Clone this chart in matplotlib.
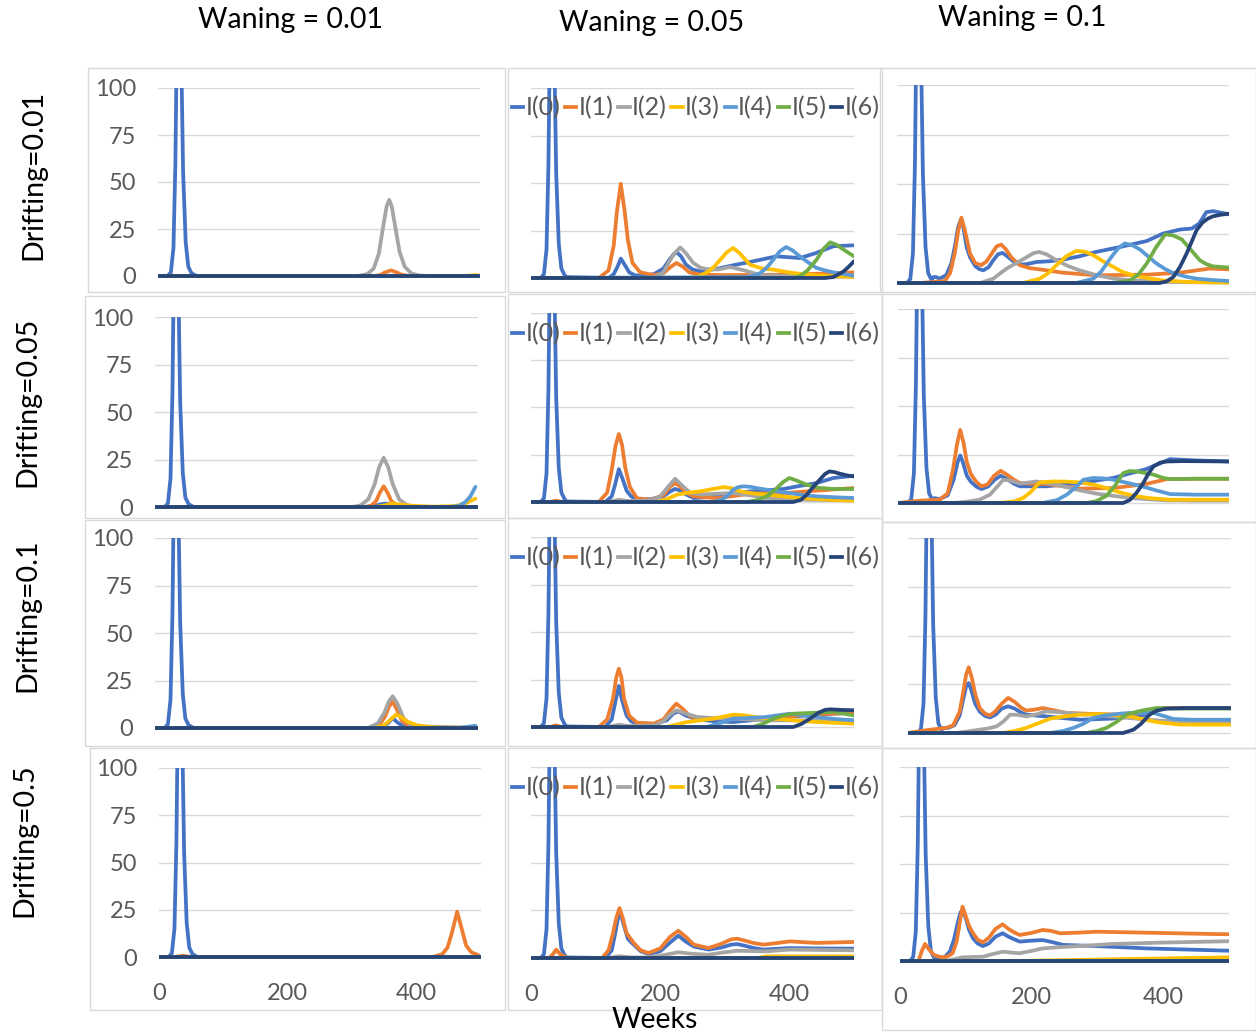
import matplotlib
matplotlib.use("Agg")
import matplotlib.pyplot as plt
from matplotlib.lines import Line2D
from matplotlib.patches import Rectangle

# ---------------- data (weeks, infected) ----------------
SERIES = ["I(0)", "I(1)", "I(2)", "I(3)", "I(4)", "I(5)", "I(6)"]
COLORS = ["#4472C4", "#ED7D31", "#A5A5A5", "#FFC000", "#5B9BD5", "#70AD47", "#264478"]
WANING = ["Waning = 0.01", "Waning = 0.05", "Waning = 0.1"]
DRIFTING = ["Drifting=0.01", "Drifting=0.05", "Drifting=0.1", "Drifting=0.5"]
X_TICKS = [0, 200, 400]
Y_TICKS = [0, 25, 50, 75, 100]

# initial outbreak of I(0), same in every panel
SPIKE_WK = [0, 15, 20, 24, 27, 30, 33, 36, 39, 43, 47, 52]
SPIKE_VAL = [0, 0, 2, 15, 60, 150, 190, 120, 55, 18, 5, 1.5]
ZERO_WK = [0, 500]
ZERO_VAL = [0, 0]

# I(0) entries below are the part after the initial outbreak
dr01_wa01 = {
    "I(0)": ([60, 500], [0, 0]),
    "I(1)": ([0, 335, 345, 353, 362, 370, 378, 390, 500], [0, 0, 0.5, 2, 3, 2, 0.7, 0, 0]),
    "I(2)": ([0, 310, 325, 335, 343, 350, 355, 359, 363, 368, 375, 383, 393, 405, 420, 500],
             [0, 0, 1, 4, 12, 27, 37, 40.5, 37, 27, 13, 5, 1.5, 0.3, 0, 0]),
    "I(3)": ([0, 470, 496], [0, 0, 0.5]),
}
dr05_wa01 = {
    "I(0)": ([60, 335, 350, 358, 370, 385, 500], [0, 0, 1.5, 1.8, 0.8, 0, 0]),
    "I(1)": ([0, 325, 335, 342, 348, 354, 360, 366, 375, 385, 500], [0, 0, 0.8, 3, 7.5, 10.9, 7.5, 3, 0.8, 0, 0]),
    "I(2)": ([0, 305, 318, 330, 340, 347, 354, 361, 368, 378, 390, 405, 500],
             [0, 0, 0.8, 4, 12, 21, 25.9, 21, 12, 4, 1, 0, 0]),
    "I(3)": ([0, 340, 355, 366, 380, 400, 430, 465, 480, 496], [0, 0, 0.8, 1.8, 1.3, 0.6, 0.2, 0.5, 1.8, 4.4]),
    "I(4)": ([0, 455, 470, 480, 488, 496], [0, 0, 0.5, 2.5, 5.5, 10.6]),
}
dr10_wa01 = {
    "I(0)": ([60, 340, 355, 362, 368, 375, 385, 395, 500], [0, 0, 1, 3, 5.3, 3, 0.8, 0, 0]),
    "I(1)": ([0, 335, 348, 356, 362, 368, 374, 382, 395, 500], [0, 0, 2, 6, 11, 14, 10, 4, 0.5, 0]),
    "I(2)": ([0, 330, 345, 355, 362, 368, 375, 385, 398, 500], [0, 0, 2.5, 8, 14, 16.7, 13, 5, 1, 0]),
    "I(3)": ([0, 340, 355, 365, 373, 380, 390, 405, 425, 440, 500], [0, 0, 1.5, 4.5, 7, 6, 3.5, 1.5, 0.6, 0.2, 0]),
    "I(4)": ([0, 470, 496], [0, 0, 1.2]),
}
dr50_wa01 = {
    "I(0)": ([60, 500], [0, 0]),
    "I(1)": ([0, 25, 37, 50, 425, 440, 448, 455, 463, 470, 477, 485, 496],
             [0, 0, 0.7, 0, 0, 1.5, 5, 13, 24, 15, 6, 2.5, 1]),
}

dr01_wa05 = {
    "I(0)": ([55, 120, 128, 134, 139, 145, 152, 160, 169, 190, 205, 215, 221, 226, 232, 240, 250, 262,
              290, 313, 340, 380, 416, 440, 468, 499],
             [0.5, 0, 2, 6, 10.2, 7, 3, 1.5, 1.2, 2, 5, 10, 12.5, 13.5, 11.5, 7, 4.5, 3.5,
              5, 6.7, 8.5, 11.4, 10.5, 13, 16.7, 17.2]),
    "I(1)": ([0, 105, 120, 128, 133, 139, 145, 150, 157, 169, 190, 205, 215, 225, 235, 245, 262, 300, 400, 470, 500],
             [0, 0, 4, 17, 35, 49.6, 35, 20, 8, 3, 1.5, 2.5, 5.5, 7.9, 6, 3, 1.8, 1.5, 1.8, 2.5, 3]),
    "I(2)": ([0, 190, 205, 213, 222, 231, 240, 251, 262, 272, 290, 308, 330, 355, 400, 500],
             [0, 0, 3, 8, 13, 16.1, 13, 8, 5.5, 4.7, 4.5, 5.8, 4, 1.5, 1, 0.8]),
    "I(3)": ([0, 250, 262, 275, 285, 293, 303, 313, 323, 339, 358, 375, 406, 440, 468, 500],
             [0, 0, 1.2, 3.5, 6.5, 9.6, 13.5, 15.8, 13, 7, 5, 4.4, 2.6, 1.5, 1, 0.5]),
    "I(4)": ([0, 334, 345, 355, 365, 375, 385, 395, 405, 416, 430, 442, 455, 468, 500],
             [0, 0.5, 1.2, 2.6, 5.5, 9.6, 14, 16.3, 14.5, 11.4, 8, 5.3, 4, 3, 1.2]),
    "I(5)": ([0, 405, 416, 428, 442, 452, 463, 473, 484, 500], [0, 0, 0.9, 4, 9.6, 15, 18.8, 17.5, 14.9, 11.4]),
    "I(6)": ([0, 455, 468, 484, 492, 500], [0, 0, 0.5, 3.5, 6, 8.8]),
}
dr05_wa05 = {
    "I(0)": ([55, 115, 125, 130, 136, 142, 148, 155, 164, 185, 205, 215, 223, 232, 240, 252, 270, 288,
              313, 339, 365, 391, 416, 442, 468, 500],
             [0.3, 0, 3, 9, 17.4, 12, 6, 3, 1.6, 1.5, 3, 5.5, 6.9, 6, 4, 2.1, 2.5, 3.3,
              4.5, 5.6, 6.2, 6.9, 8.5, 10, 12.7, 13.9]),
    "I(1)": ([0, 30, 38, 48, 105, 118, 125, 131, 136, 141, 146, 153, 164, 185, 205, 215, 223, 232, 240, 252,
              288, 339, 391, 442, 500],
             [0, 0, 0.7, 0, 0, 5, 17, 30, 36, 30, 18, 8, 2, 1.2, 3.5, 8, 10, 8, 5, 3,
              2, 4.4, 4.7, 6, 7.4]),
    "I(2)": ([0, 120, 136, 150, 185, 200, 212, 223, 233, 247, 265, 288, 313, 340, 365, 430, 500],
             [0, 0, 1.2, 0.5, 0.9, 3, 8, 12.3, 9, 4.7, 4, 4.4, 4.7, 3.5, 2.1, 1.2, 0.9]),
    "I(3)": ([0, 195, 210, 226, 245, 262, 280, 298, 312, 324, 345, 365, 390, 416, 460, 500],
             [0, 0, 1.5, 3.9, 5, 5.6, 6.8, 7.9, 7.2, 5.6, 4.5, 3.9, 3, 2.1, 1.2, 0.7]),
    "I(4)": ([0, 282, 295, 305, 313, 320, 329, 340, 352, 365, 383, 401, 420, 442, 470, 500],
             [0, 0, 1.2, 3.5, 6.5, 7.8, 8.3, 8, 7.2, 6.5, 5.5, 4.7, 3.8, 3, 2.5, 2.1]),
    "I(5)": ([0, 334, 350, 365, 378, 390, 400, 410, 427, 445, 468, 500],
             [0, 0, 1, 3, 6.5, 10.5, 12.7, 11.5, 9.1, 7.5, 6.9, 6.9]),
    "I(6)": ([0, 406, 418, 427, 437, 447, 455, 462, 470, 478, 490, 500],
             [0, 0, 1.2, 3.9, 8, 11.8, 14.8, 16.2, 15.8, 15, 14, 13.5]),
}
dr10_wa05 = {
    "I(0)": ([55, 115, 125, 131, 136, 141, 148, 155, 164, 190, 210, 220, 228, 240, 257, 285, 313, 340,
              365, 390, 416, 440, 468, 500],
             [0.3, 0, 4, 14, 21.6, 14, 6, 3, 1.8, 1.5, 3.5, 7, 8.2, 6, 4, 3, 2.6, 3.5,
              4.7, 5.3, 5.8, 6.3, 7, 7.5]),
    "I(1)": ([0, 30, 38, 48, 105, 118, 127, 132, 136, 140, 144, 152, 164, 190, 205, 215, 225, 235, 245, 257,
              285, 313, 340, 365, 390, 416, 440, 463, 500],
             [0, 0, 0.9, 0, 0, 4, 15, 26, 30.7, 26, 15, 6, 2.3, 1.8, 4, 8.5, 12.3, 9.5, 6, 4.4,
              4.5, 5.3, 4.6, 4, 5, 6.1, 6.5, 7, 7.5]),
    "I(2)": ([0, 120, 136, 150, 190, 205, 215, 225, 240, 257, 285, 313, 365, 500],
             [0, 0, 1.2, 0.5, 0.8, 3, 6.5, 8.8, 7, 5.3, 4.6, 4.4, 3.5, 3.5]),
    "I(3)": ([0, 210, 241, 262, 282, 300, 313, 330, 344, 365, 391, 416, 442, 470, 500],
             [0, 0, 2.6, 3.5, 4.4, 5.6, 6.5, 6.2, 5.3, 4.6, 4, 3.2, 2.6, 2.2, 1.8]),
    "I(4)": ([0, 272, 290, 313, 340, 365, 385, 401, 420, 442, 470, 500],
             [0, 0, 1.8, 4.4, 4.8, 5.3, 6.3, 7, 6.3, 5.3, 4.2, 3.5]),
    "I(5)": ([0, 344, 360, 375, 390, 406, 425, 442, 468, 485, 500], [0, 0, 1.8, 4.4, 6, 7, 7.3, 7.5, 8, 7, 6.1]),
    "I(6)": ([0, 406, 418, 432, 445, 455, 463, 480, 500], [0, 0, 1.5, 4.4, 7.5, 9, 9.3, 9, 8.8]),
}
dr50_wa05 = {
    "I(0)": ([55, 115, 125, 131, 137, 143, 150, 159, 170, 182, 200, 215, 228, 240, 252, 275, 295, 310,
              319, 330, 345, 360, 380, 401, 440, 500],
             [0.3, 0, 4, 14, 25.3, 18, 10, 7, 3.5, 2.1, 3.5, 8, 11.7, 8.5, 6, 4.4, 5.5, 7,
              7.3, 6.5, 5.2, 4.4, 4.8, 5.2, 5, 4.9]),
    "I(1)": ([0, 28, 34, 39, 45, 56, 110, 120, 127, 132, 137, 142, 148, 159, 170, 182, 200, 215, 228, 240,
              252, 275, 295, 310, 319, 330, 345, 360, 380, 401, 442, 500],
             [0, 0, 2, 4.4, 2, 0, 0, 4, 13, 21, 26.2, 21, 13, 7.9, 4, 2.6, 5, 11, 14.3, 11,
              7, 5.2, 7.5, 9.8, 10.1, 9.2, 7.8, 7, 7.8, 8.7, 7.9, 8.4]),
    "I(2)": ([0, 120, 137, 155, 182, 205, 228, 250, 275, 295, 319, 345, 365, 400, 450, 500],
             [0, 0, 0.9, 0.3, 0.3, 1.5, 3, 2.2, 1.7, 2.8, 3.8, 3.6, 3.5, 4.4, 4.2, 4]),
    "I(3)": ([0, 350, 365, 500], [0, 0, 0.9, 0.9]),
}

dr01_wa10 = {
    "I(0)": ([55, 59, 64, 74, 82, 88, 92, 96, 100, 105, 110, 118, 124, 130, 138, 145, 152, 159, 166, 175,
              185, 195, 210, 230, 250, 275, 300, 336, 376, 401, 426, 444, 455, 466, 476, 488, 500],
             [3, 3, 2.2, 3.9, 10, 20, 28, 32, 28, 18, 13, 8.5, 7, 6.4, 8, 11.5, 14.5, 15.2, 13.5, 11,
              9.3, 9.5, 10.6, 11, 11.8, 13.5, 15.7, 18.2, 21.2, 25, 27, 27.5, 30, 35.8, 36.3, 35.5, 34.7]),
    "I(1)": ([0, 35, 72, 80, 87, 92, 97, 102, 110, 118, 127, 135, 143, 150, 157, 164, 172, 185, 200, 215,
              250, 300, 376, 426, 471, 500],
             [0, 0, 1, 5, 15, 26, 33, 27, 14.8, 10, 9, 11, 15, 18.5, 19.4, 17, 13, 9, 7.5, 6.9,
              5.2, 3.9, 4.2, 5.2, 7.3, 6.9]),
    "I(2)": ([0, 125, 130, 145, 165, 190, 205, 214, 225, 240, 258, 275, 300, 326, 350, 376, 420, 500],
             [0, 0, 0.5, 2.2, 7.3, 12, 15, 15.7, 14.5, 11.5, 8.5, 6.4, 4, 2.2, 1.5, 1, 0.5, 0.3]),
    "I(3)": ([0, 190, 215, 228, 240, 255, 270, 283, 296, 310, 326, 340, 356, 380, 401, 440, 500],
             [0, 0, 2.2, 5, 9, 13.5, 16.2, 15.8, 14, 11, 8.1, 5.5, 3.9, 2.3, 1.3, 0.5, 0.2]),
    "I(4)": ([0, 270, 296, 308, 321, 333, 343, 355, 366, 378, 391, 404, 416, 435, 451, 475, 500],
             [0, 0, 2.2, 6, 12.3, 17.5, 20, 19, 16.9, 13.5, 9.8, 7, 5, 3.2, 2.2, 1.5, 1]),
    "I(5)": ([0, 326, 351, 364, 376, 390, 404, 416, 429, 442, 456, 466, 476, 500],
             [0, 0, 1.3, 4.5, 9.8, 18, 24.6, 24, 22, 17, 11.5, 9.5, 8.4, 7.8]),
    "I(6)": ([0, 395, 406, 416, 426, 436, 444, 451, 460, 468, 476, 488, 500],
             [0, 0, 0.8, 3, 8, 14.8, 21, 26.6, 30.5, 32.5, 33.7, 34.5, 35]),
}
dr05_wa10 = {
    "I(0)": ([55, 63, 75, 84, 90, 94, 98, 104, 110, 118, 126, 136, 146, 155, 164, 175, 184, 224, 275, 325,
              375, 411, 446, 500],
             [2.5, 2, 4, 12, 21, 24.5, 21, 14, 11, 8.5, 7.2, 8.5, 12, 14, 12.5, 10, 8.6, 8.6, 10.3, 12.9,
              17.5, 22.6, 22, 21.4]),
    "I(1)": ([0, 33, 63, 75, 83, 89, 94, 99, 104, 110, 118, 126, 135, 145, 155, 165, 175, 184, 200, 224,
              275, 325, 375, 406, 450, 500],
             [0, 1.2, 1.7, 5, 17, 30, 37.7, 31, 21, 15, 11, 8.6, 9.5, 14, 16.6, 14.5, 12, 10.3, 10, 9.8,
              7.4, 7.7, 9.8, 12.3, 12.5, 12.5]),
    "I(2)": ([0, 83, 100, 123, 139, 150, 159, 170, 184, 196, 209, 230, 250, 275, 300, 350, 401, 450, 500],
             [0, 0, 0.5, 1.7, 4.3, 8.5, 12, 11.5, 10, 10.5, 11.1, 10, 8.6, 6.5, 4.8, 2.6, 1.4, 1.2, 1.2]),
    "I(3)": ([0, 154, 175, 189, 200, 214, 234, 255, 275, 295, 315, 335, 355, 380, 411, 450, 500],
             [0, 0, 0.8, 2.6, 5.5, 10.6, 11.1, 11, 10.6, 9.5, 7.7, 5.5, 3.8, 2.5, 1.7, 1.7, 1.7]),
    "I(4)": ([0, 219, 240, 255, 268, 280, 295, 310, 325, 345, 365, 390, 411, 450, 500],
             [0, 0, 1.5, 4.3, 8, 12, 12.9, 12.7, 12, 10.5, 8.9, 6.5, 4.6, 4.3, 4.3]),
    "I(5)": ([0, 285, 300, 315, 328, 340, 350, 360, 373, 386, 400, 411, 450, 500],
             [0, 0, 1, 3.8, 9, 15.4, 16.5, 16.3, 15.5, 14.6, 13, 12.3, 12.5, 12.5]),
    "I(6)": ([0, 340, 350, 360, 370, 378, 386, 396, 406, 430, 500],
             [0, 0, 1.5, 5.1, 10, 15, 18.9, 20.8, 21.4, 21.6, 21.4]),
}
dr10_wa10 = {
    "I(0)": ([54, 62, 72, 80, 86, 90, 94, 98, 104, 111, 119, 127, 136, 145, 155, 165, 175, 183, 214, 266,
              318, 369, 385, 395, 450, 500],
             [2.5, 2.6, 4, 9, 18, 24, 25.6, 22, 15, 11, 8.8, 8, 9.5, 12.5, 13.7, 12.5, 10.5, 9.4, 8.5, 6.8,
              7.4, 9.4, 11.5, 12.8, 12.8, 12.8]),
    "I(1)": ([0, 34, 59, 70, 80, 86, 90, 94, 99, 104, 111, 119, 127, 135, 145, 155, 165, 175, 183, 196,
              209, 245, 292, 343, 370, 395, 450, 500],
             [0, 1.7, 2.6, 4, 11, 22, 30, 33.7, 28, 20, 12.8, 10, 9, 11, 15, 18, 16, 13, 11.5, 12,
              12.8, 10.3, 9.7, 9.4, 10.8, 12.8, 12.8, 12.8]),
    "I(2)": ([0, 75, 111, 125, 137, 148, 158, 170, 183, 198, 214, 240, 266, 318, 369, 411, 500],
             [0, 0, 1.7, 2.4, 3.4, 6, 9.4, 9.3, 8.5, 9.5, 11.1, 10.5, 9.7, 8.5, 6.8, 6, 6]),
    "I(3)": ([0, 147, 165, 183, 200, 220, 245, 266, 297, 320, 343, 365, 385, 421, 500],
             [0, 0, 1, 2.6, 4.8, 7.4, 8.6, 9.4, 9.7, 9.2, 8.5, 7, 5.6, 4.3, 4.3]),
    "I(4)": ([0, 220, 240, 256, 270, 287, 305, 325, 343, 380, 395, 411, 440, 500],
             [0, 0, 1, 2.6, 4.5, 7.7, 9, 9.8, 10.3, 10.3, 8.8, 7.2, 6.8, 6.8]),
    "I(5)": ([0, 276, 292, 307, 322, 338, 355, 370, 385, 420, 500],
             [0, 0, 1, 2.6, 5.5, 9.4, 11, 12, 12.8, 12.5, 12.5]),
    "I(6)": ([0, 333, 349, 360, 374, 385, 400, 430, 500], [0, 0, 1.7, 4.5, 9.4, 11.5, 12.5, 12.8, 12.8]),
}
dr50_wa10 = {
    "I(0)": ([55, 60, 68, 76, 82, 88, 92, 95, 100, 105, 111, 118, 126, 135, 145, 156, 165, 175, 182, 200,
              217, 233, 248, 298, 375, 500],
             [2, 1.4, 2, 5, 11, 20, 25, 26.3, 22, 16, 11.7, 9, 7.7, 9, 12.5, 14.3, 12.5, 11, 10, 10.5,
              10.8, 9.6, 8.3, 7.7, 6.5, 5.3]),
    "I(1)": ([0, 28, 33, 38, 44, 52, 60, 65, 72, 80, 86, 90, 95, 100, 105, 111, 118, 126, 135, 145,
              156, 165, 175, 182, 200, 217, 230, 243, 270, 298, 375, 476, 500],
             [0, 0, 5, 8.8, 6, 3, 2.2, 1.9, 2.3, 4, 10, 18, 28, 23, 18, 14.3, 11, 9.6, 12, 16.5,
              18.9, 16.5, 14.5, 13.4, 14.5, 16, 15.5, 14.3, 14.6, 15.1, 14.6, 13.9, 13.8]),
    "I(2)": ([0, 70, 95, 126, 140, 156, 170, 182, 200, 217, 245, 273, 324, 400, 500],
             [0, 0, 1.9, 2.2, 3.5, 4.8, 4.3, 4, 5.2, 6.5, 7.2, 7.7, 8.8, 9.5, 10.2]),
    "I(3)": ([0, 172, 324, 500], [0, 0, 0.9, 1.9]),
}

PANELS = [[dr01_wa01, dr01_wa05, dr01_wa10],
          [dr05_wa01, dr05_wa05, dr05_wa10],
          [dr10_wa01, dr10_wa05, dr10_wa10],
          [dr50_wa01, dr50_wa05, dr50_wa10]]

# ---------------- layout (pixels) ----------------
W, H = 1256, 1034
# (x of week 0, x of week 500, y of value 100, y of value 0)
BOX = [[(158, 480, 88, 276), (531, 854, 88, 278), (897, 1229, 85, 283)],
       [(155, 478, 317, 507), (531, 854, 313, 502), (898, 1229, 309, 503)],
       [(155, 478, 538, 728), (531, 854, 537, 727), (908, 1231, 538, 733)],
       [(159, 481, 768, 957), (531, 854, 767, 958), (900, 1229, 767, 961)]]
CHART_AREA = [[(88, 68, 505, 292), (508, 68, 882, 292), (880, 68, 1256, 292)],
              [(85, 296, 505, 518), (508, 294, 882, 518), (882, 294, 1256, 522)],
              [(85, 520, 505, 746), (508, 518, 882, 746), (882, 522, 1256, 748)],
              [(90, 748, 505, 1010), (508, 748, 882, 1010), (882, 748, 1256, 1030)]]
LEGEND_Y = [108, 334, 558, 788]
YLO = -1.2
GREY = "#595959"
LW = 2.7

plt.rcParams["font.family"] = ["Lato", "DejaVu Sans"]
fig = plt.figure(figsize=(W / 100, H / 100), dpi=100)

for r in range(4):
    for c in range(3):
        x0, x1, y100, y0 = BOX[r][c]
        bx0, by0, bx1, by1 = CHART_AREA[r][c]
        fig.patches.append(Rectangle((bx0 / W, 1 - by1 / H), (bx1 - bx0) / W, (by1 - by0) / H,
                                     transform=fig.transFigure, fill=False,
                                     edgecolor="#d9d9d9", lw=1, zorder=0))
        unit = (y0 - y100) / 100
        ybot = y0 - YLO * unit
        ax = fig.add_axes([x0 / W, 1 - ybot / H, (x1 - x0) / W, (ybot - y100) / H])
        ax.set_facecolor("none")
        ax.set_xlim(0, 500)
        ax.set_ylim(YLO, 100)
        for yv in Y_TICKS:
            ax.axhline(yv, color="#d9d9d9", lw=1, zorder=0)
        data = PANELS[r][c]
        for name, col in zip(SERIES, COLORS):
            if name == "I(0)":
                wk, val = data[name]
                wk = SPIKE_WK + wk
                val = SPIKE_VAL + val
            elif name in data:
                wk, val = data[name]
            else:
                wk, val = ZERO_WK, ZERO_VAL
            ax.plot(wk, val, color=col, lw=LW, solid_joinstyle="round", solid_capstyle="round")
        for s in ax.spines.values():
            s.set_visible(False)
        ax.tick_params(length=0, labelsize=17, labelcolor=GREY)
        if c == 0:
            ax.set_yticks(Y_TICKS)
            ax.tick_params(axis="y", pad=16)
        else:
            ax.set_yticks([])
        if r == 3:
            ax.set_xticks(X_TICKS)
            ax.tick_params(axis="x", pad=17)
        else:
            ax.set_xticks([])

        if c == 1:
            handles = [Line2D([], [], color=col, lw=LW) for col in COLORS]
            fig.legend(handles, SERIES, loc="center left",
                       bbox_to_anchor=(512 / W, 1 - LEGEND_Y[r] / H), ncol=7, frameon=False,
                       fontsize=18, labelcolor=GREY, handlelength=0.45, handletextpad=0.1,
                       columnspacing=0.18, borderpad=0, borderaxespad=0)

# titles
for txt, (x, y) in zip(WANING, [(290, 20), (652, 23), (1022, 18)]):
    fig.text(x / W, 1 - y / H, txt, ha="center", va="center", fontsize=20.5, color="black")
for txt, (x, y) in zip(DRIFTING, [(33, 175), (27, 402), (27, 615), (24, 840)]):
    fig.text(x / W, 1 - y / H, txt, ha="center", va="center", fontsize=20.5, rotation=90, color="black")
fig.text(655 / W, 1 - 1020 / H, "Weeks", ha="center", va="center", fontsize=20.5, color="black")

fig.savefig("out.png", dpi=100)
